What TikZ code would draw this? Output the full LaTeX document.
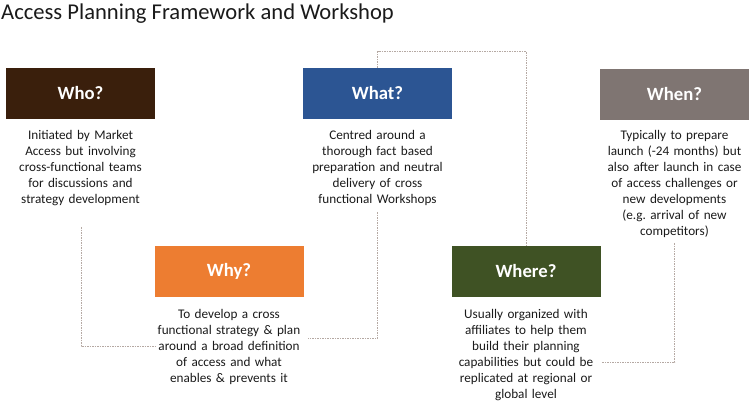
\documentclass[tikz,border=0pt]{standalone}
\usepackage{fontspec}
\setmainfont{Carlito}
\frenchspacing
\definecolor{cwho}{HTML}{3A1F0C}
\definecolor{cwhat}{HTML}{2C5593}
\definecolor{cwhen}{HTML}{7F7572}
\definecolor{cwhy}{HTML}{ED7D31}
\definecolor{cwhere}{HTML}{3F5224}
\definecolor{txt}{HTML}{1A1A1A}
\definecolor{lnk}{HTML}{B5A9A3}
\tikzset{
  hbox/.style={fill=#1, minimum width=149pt, minimum height=51pt, inner sep=0pt,
    text=white, font=\fontsize{18.7}{22}\selectfont\bfseries},
  desc/.style={text width=150pt, align=center, inner sep=0pt, anchor=north,
    font=\fontsize{13.2}{16}\selectfont, text=txt},
  link/.style={draw=lnk, line width=0.8pt, dash pattern=on 1.5pt off 1pt},
}
\begin{document}
\begin{tikzpicture}[x=1pt,y=-1pt]
\useasboundingbox (0,0) rectangle (750,402);
\node[anchor=base west, inner sep=0pt, font=\fontsize{22.6}{26}\selectfont, text=txt] (title) at (1,19) {Access Planning Framework and Workshop};

\node[hbox=cwho] (who) at (80.5,93.5) {Who?};
\node[hbox=cwhat] (what) at (377.5,93.5) {What?};
\node[hbox=cwhen] (when) at (674.5,94.5) {When?};
\node[hbox=cwhy] (why) at (229,271.5) {Why?};
\node[hbox=cwhere] (where) at (526,271.5) {Where?};

\node[desc] (whotext) at (80.5,130) {Initiated by Market\\Access but involving\\cross-functional teams\\for discussions and\\strategy development};
\node[desc] (whattext) at (377.5,130) {Centred around a\\thorough fact based\\preparation and neutral\\delivery of cross\\functional Workshops};
\node[desc] (whentext) at (674.5,130) {Typically to prepare\\launch (-24 months) but\\also after launch in case\\of access challenges or\\new developments\\(e.g. arrival of new\\competitors)};
\node[desc] (whytext) at (229,309) {To develop a cross\\functional strategy \& plan\\around a broad definition\\of access and what\\enables \& prevents it};
\node[desc] (wheretext) at (526,309) {Usually organized with\\affiliates to help them\\build their planning\\capabilities but could be\\replicated at regional or\\global level};

\coordinate (whoA) at (81,227);
\coordinate (whyA) at (155,346);
\coordinate (whatA) at (377.5,212);
\coordinate (whyB) at (308,338);
\coordinate (whenA) at (674.5,243);
\coordinate (whereA) at (601,362);

\draw[link] (whoA) |- (whyA);
\draw[link] (whatA) |- (whyB);
\draw[link] (whenA) |- (whereA);
\draw[link] (what.north) -- ++(0,-16) -| (where.north);
\end{tikzpicture}
\end{document}
